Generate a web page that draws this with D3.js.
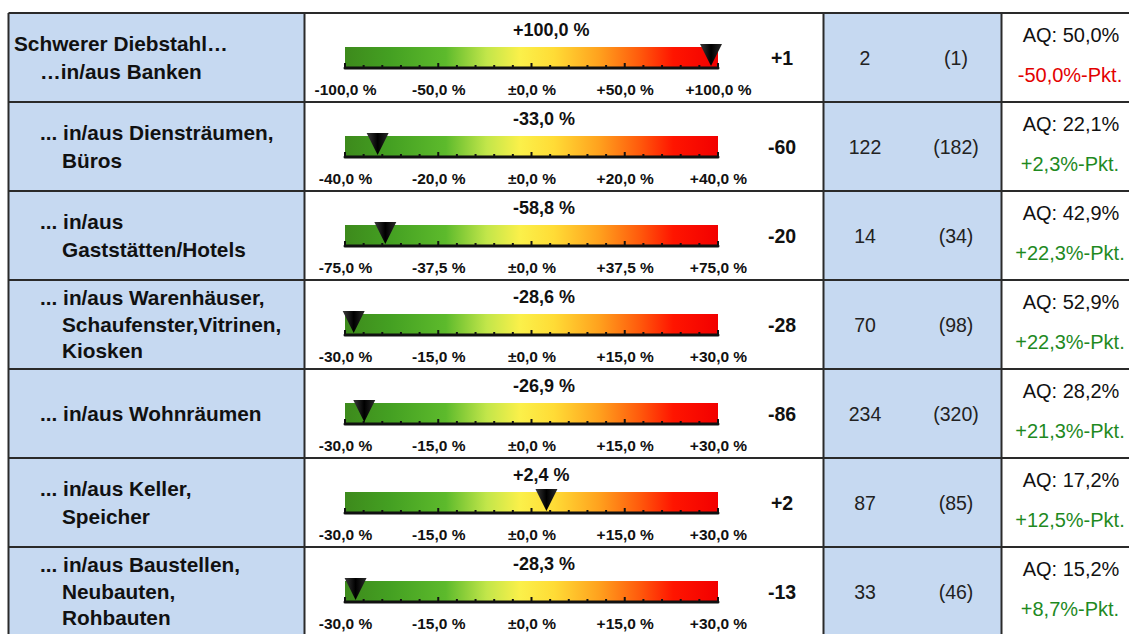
<!DOCTYPE html>
<html><head><meta charset="utf-8">
<script src="https://cdn.jsdelivr.net/npm/d3@7"></script>
<style>
html,body{margin:0;padding:0;background:#fff;}
svg{display:block;font-family:"Liberation Sans",Arial,sans-serif;}
</style></head>
<body>
<svg id="chart" width="1129" height="634"></svg>
<script>
// ---- data ----
const labels = [
  ["Schwerer Diebstahl…", "…in/aus Banken"],
  ["... in/aus Diensträumen,", "Büros"],
  ["... in/aus", "Gaststätten/Hotels"],
  ["... in/aus Warenhäuser,", "Schaufenster,Vitrinen,", "Kiosken"],
  ["... in/aus Wohnräumen"],
  ["... in/aus Keller,", "Speicher"],
  ["... in/aus Baustellen,", "Neubauten,", "Rohbauten"]
];
const changePct = [100.0, -33.0, -58.8, -28.6, -26.9, 2.4, -28.3];
const scaleRange = [100, 40, 75, 30, 30, 30, 30];
const changeAbs = [1, -60, -20, -28, -86, 2, -13];
const countNow = [2, 122, 14, 70, 234, 87, 33];
const countPrev = [1, 182, 34, 98, 320, 85, 46];
const aq = [50.0, 22.1, 42.9, 52.9, 28.2, 17.2, 15.2];
const aqDelta = [-50.0, 2.3, 22.3, 22.3, 21.3, 12.5, 8.7];

// ---- layout ----
const svg = d3.select("#chart");
const top0 = 13, rowH = 89;
const colX = [8.5, 304.5, 823.5, 1001.5, 1140];
const barX0 = 345, barX1 = 718;
const border = "#2a2a2a", blue = "#c6d9f1";
const green = "#1f8a1f", red = "#e30000";

const rowScale = d3.scaleBand().domain(d3.range(labels.length))
  .range([top0, top0 + rowH * labels.length]).padding(0);

const fmtDe = (v, d) => v.toFixed(d).replace(".", ",");
const sign = v => v > 0 ? "+" : (v < 0 ? "-" : "±");
const fmtPct = v => sign(v) + fmtDe(Math.abs(v), 1) + " %";

// gradient
const defs = svg.append("defs");
const grad = defs.append("linearGradient").attr("id", "g").attr("x1", "0").attr("x2", "1").attr("y1", "0").attr("y2", "0");
[[0, "#3d8a1c"], [0.12, "#44a022"], [0.27, "#5dba2c"], [0.38, "#c2e64a"], [0.47, "#fbf04a"], [0.56, "#ffdc36"],
 [0.68, "#ffa21e"], [0.79, "#ff5a0c"], [0.88, "#ff1500"], [1, "#f20000"]]
  .forEach(([o, c]) => grad.append("stop").attr("offset", o).attr("stop-color", c));
const tg = defs.append("linearGradient").attr("id", "tg").attr("x1", "0").attr("x2", "1");
tg.append("stop").attr("offset", 0).attr("stop-color", "#3a3a3a");
tg.append("stop").attr("offset", 0.5).attr("stop-color", "#000");
tg.append("stop").attr("offset", 1).attr("stop-color", "#2a2a2a");

// backgrounds
const rows = svg.selectAll("g.row").data(labels.map((l, i) => i)).join("g").attr("class", "row")
  .attr("transform", i => `translate(0,${rowScale(i)})`);
rows.append("rect").attr("x", colX[0]).attr("width", colX[1] - colX[0]).attr("height", rowH).attr("fill", blue);
rows.append("rect").attr("x", colX[2]).attr("width", colX[3] - colX[2]).attr("height", rowH).attr("fill", blue);

// labels
rows.each(function (i) {
  const g = d3.select(this);
  const lines = labels[i];
  const lh = lines.length > 2 ? 26.5 : 28;
  const y0 = rowH / 2 - (lines.length - 1) * lh / 2;
  lines.forEach((t, k) => {
    let x = 62;
    if (i === 0 && k === 0) x = 14;
    else if (t.startsWith(".") || t.startsWith("…")) x = 40;
    g.append("text").attr("x", x).attr("y", y0 + k * lh).attr("dy", "0.36em")
      .attr("font-size", 20.8).attr("font-weight", "bold").attr("fill", "#111").text(t);
  });
});

// gauges
rows.each(function (i) {
  const g = d3.select(this);
  const r = scaleRange[i];
  const x = d3.scaleLinear().domain([-r, r]).range([barX0, barX1]);
  const barTop = 34, barBot = 55;
  g.append("text").attr("x", 513).attr("y", 17).attr("dy", "0.36em").attr("font-size", 18)
    .attr("font-weight", "bold").attr("fill", "#111").text(fmtPct(changePct[i]));
  g.append("rect").attr("x", x(-r)).attr("y", barTop).attr("width", x(r) - x(-r)).attr("height", barBot - barTop)
    .attr("fill", "url(#g)");
  // minor/major ticks
  const tv = d3.range(21).map(k => -r + k * r / 10);
  g.selectAll("line.tk").data(tv).join("line").attr("class", "tk")
    .attr("x1", d => x(d)).attr("x2", d => x(d))
    .attr("y1", (d, k) => barBot - (k % 5 === 0 ? 5 : 3)).attr("y2", barBot)
    .attr("stroke", "#111").attr("stroke-width", 2);
  g.append("line").attr("x1", x(-r)).attr("x2", x(r)).attr("y1", barBot).attr("y2", barBot)
    .attr("stroke", "#111").attr("stroke-width", 3).attr("stroke-linecap", "round");
  const axis = d3.axisBottom(x).tickValues([-r, -r / 2, 0, r / 2, r]).tickSize(0).tickPadding(0)
    .tickFormat(fmtPct);
  const ag = g.append("g").attr("transform", `translate(0,${barBot + 21})`).call(axis);
  ag.select(".domain").remove();
  ag.selectAll("text").attr("font-size", 15.5).attr("font-weight", "bold").attr("fill", "#111")
    .attr("font-family", "'Liberation Sans',Arial,sans-serif").attr("dy", "0.36em").attr("y", 0);
  // marker
  const mx = Math.min(Math.max(x(changePct[i]), barX0 + 7), barX1 - 7);
  g.append("path").attr("d", `M${mx - 11},${barTop - 3} L${mx + 11},${barTop - 3} L${mx},${barBot - 2} Z`)
    .attr("fill", "url(#tg)");
});

// change / counts / AQ
rows.append("text").attr("x", 782).attr("y", rowH / 2).attr("dy", "0.36em").attr("text-anchor", "middle")
  .attr("font-size", 19.5).attr("font-weight", "bold").attr("fill", "#111")
  .text(i => (changeAbs[i] > 0 ? "+" : "") + changeAbs[i]);
rows.append("text").attr("x", 865).attr("y", rowH / 2).attr("dy", "0.36em").attr("text-anchor", "middle")
  .attr("font-size", 19.5).attr("fill", "#222").text(i => countNow[i]);
rows.append("text").attr("x", 956).attr("y", rowH / 2).attr("dy", "0.36em").attr("text-anchor", "middle")
  .attr("font-size", 19.5).attr("fill", "#222").text(i => `(${countPrev[i]})`);
rows.append("text").attr("x", 1071).attr("y", 22).attr("dy", "0.36em").attr("text-anchor", "middle")
  .attr("font-size", 20).attr("fill", "#111").text(i => "AQ: " + fmtDe(aq[i], 1) + "%");
rows.append("text").attr("x", 1070).attr("y", 62).attr("dy", "0.36em").attr("text-anchor", "middle")
  .attr("font-size", 20).attr("fill", i => aqDelta[i] < 0 ? red : green)
  .text(i => sign(aqDelta[i]) + fmtDe(Math.abs(aqDelta[i]), 1) + "%-Pkt.");

// grid lines
const gridG = svg.append("g");
d3.range(labels.length + 1).forEach(k => {
  const y = top0 + k * rowH;
  gridG.append("line").attr("x1", colX[0]).attr("x2", 1135).attr("y1", y).attr("y2", y)
    .attr("stroke", border).attr("stroke-width", 2);
});
colX.slice(0, 4).forEach(cx => {
  gridG.append("line").attr("x1", cx).attr("x2", cx).attr("y1", top0).attr("y2", top0 + rowH * labels.length)
    .attr("stroke", border).attr("stroke-width", 2);
});
</script>
</body></html>
